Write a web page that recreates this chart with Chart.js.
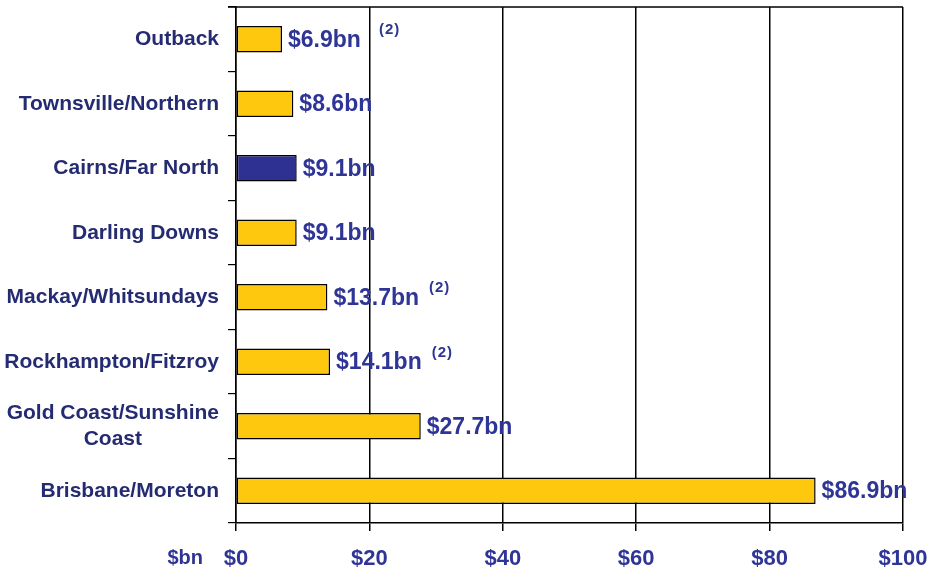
<!DOCTYPE html>
<html>
<head>
<meta charset="utf-8">
<script src="https://cdn.jsdelivr.net/npm/chart.js@4/dist/chart.umd.min.js"></script>
<style>
  html, body { margin:0; padding:0; background:#fff; }
  #wrap { width:931px; height:567px; position:relative; }
</style>
</head>
<body>
<div id="wrap"><canvas id="chart"></canvas></div>
<script>
//--------------------------------------------------
// DATA
//--------------------------------------------------
const regions = [
  ["Outback"],
  ["Townsville/Northern"],
  ["Cairns/Far North"],
  ["Darling Downs"],
  ["Mackay/Whitsundays"],
  ["Rockhampton/Fitzroy"],
  ["Gold Coast/Sunshine", "Coast"],
  ["Brisbane/Moreton"]
];
const values = [6.9, 8.6, 9.1, 9.1, 13.7, 14.1, 27.7, 86.9];
const valueLabels = ["$6.9bn", "$8.6bn", "$9.1bn", "$9.1bn", "$13.7bn", "$14.1bn", "$27.7bn", "$86.9bn"];
const notes = ["(2)", "", "", "", "(2)", "(2)", "", ""];
const highlight = "Cairns/Far North";
const xTicks = [0, 20, 40, 60, 80, 100];
const unitLabel = "$bn";

//--------------------------------------------------
// STYLE
//--------------------------------------------------
const FONT = "'Liberation Sans', Arial, sans-serif";
const YELLOW = "#fdc80e";
const NAVY_BAR = "#2e3192";
const NAVY_TXT = "#2f3596";
const NAVY_CAT = "#252b72";

const barColors = regions.map(r => r[0] === highlight ? NAVY_BAR : YELLOW);

// draws category names, value labels, notes, top frame line, unit label
const labelPlugin = {
  id: "labels",
  afterDraw(chart){
    const ctx = chart.ctx;
    const area = chart.chartArea;
    const y = chart.scales.y;
    const meta = chart.getDatasetMeta(0);

    ctx.save();
    // top frame line
    ctx.strokeStyle = "#000";
    ctx.lineWidth = 1.5;
    ctx.beginPath();
    ctx.moveTo(area.left - 8, area.top);
    ctx.lineTo(area.right, area.top);
    ctx.stroke();

    // category names
    ctx.fillStyle = NAVY_CAT;
    ctx.font = "bold 21px " + FONT;
    ctx.textBaseline = "middle";
    const rightEdge = area.left - 17;
    regions.forEach((lines, i) => {
      const cy = y.getPixelForValue(i);
      const lh = 26;
      const widths = lines.map(l => ctx.measureText(l).width);
      const maxW = Math.max(...widths);
      const centerX = rightEdge - maxW / 2;
      lines.forEach((l, j) => {
        const ly = cy + (j - (lines.length - 1) / 2) * lh;
        ctx.textAlign = "center";
        ctx.fillText(l, centerX, ly);
      });
    });

    // value labels + notes
    meta.data.forEach((bar, i) => {
      ctx.font = "bold 23px " + FONT;
      ctx.letterSpacing = "0px";
      ctx.fillStyle = NAVY_TXT;
      ctx.textAlign = "left";
      ctx.textBaseline = "middle";
      const lx = bar.x + 6;
      ctx.fillText(valueLabels[i], lx, bar.y + 1);
      if(notes[i]){
        const w = ctx.measureText(valueLabels[i]).width;
        ctx.font = "bold 15px " + FONT;
        ctx.letterSpacing = "1px";
        const gap = i === 0 ? 18 : 10;
        ctx.fillText(notes[i], lx + w + gap, bar.y - 9);
      }
    });

    // unit label
    ctx.font = "bold 20px " + FONT;
    ctx.letterSpacing = "0px";
    ctx.fillStyle = NAVY_TXT;
    ctx.textAlign = "right";
    ctx.textBaseline = "middle";
    ctx.fillText(unitLabel, area.left - 33, 558);
    ctx.restore();
  }
};

new Chart(document.getElementById("chart"), {
  type: "bar",
  data: {
    labels: regions,
    datasets: [{
      data: values,
      backgroundColor: barColors,
      borderColor: "#000",
      borderWidth: 1.5,
      borderSkipped: false,
      barPercentage: 0.41,
      categoryPercentage: 1
    }]
  },
  options: {
    indexAxis: "y",
    responsive: true,
    maintainAspectRatio: false,
    animation: false,
    events: [],
    layout: { padding: { top: 7, right: 28, left: 0, bottom: 0 } },
    plugins: {
      legend: { display: false },
      tooltip: { enabled: false }
    },
    scales: {
      x: {
        min: 0,
        max: 100,
        afterBuildTicks: s => { s.ticks = xTicks.map(v => ({ value: v })); },
        ticks: {
          color: NAVY_TXT,
          font: { family: FONT, size: 22, weight: "bold" },
          padding: 15,
          maxRotation: 0,
          callback: v => "$" + v
        },
        grid: { color: "#000", lineWidth: 1.5, tickLength: 8, drawOnChartArea: true },
        border: { display: true, color: "#000", width: 1.5 },
        afterFit: s => { s.height = 44; s.paddingRight = 0; s.paddingLeft = 0; }
      },
      y: {
        offset: true,
        ticks: { display: false },
        grid: { offset: true, drawOnChartArea: false, drawTicks: true, tickLength: 8, color: "#000", lineWidth: 1.2 },
        border: { display: true, color: "#000", width: 1.5 },
        afterFit: s => { s.width = 236; }
      }
    }
  },
  plugins: [labelPlugin]
});
</script>
</body>
</html>
